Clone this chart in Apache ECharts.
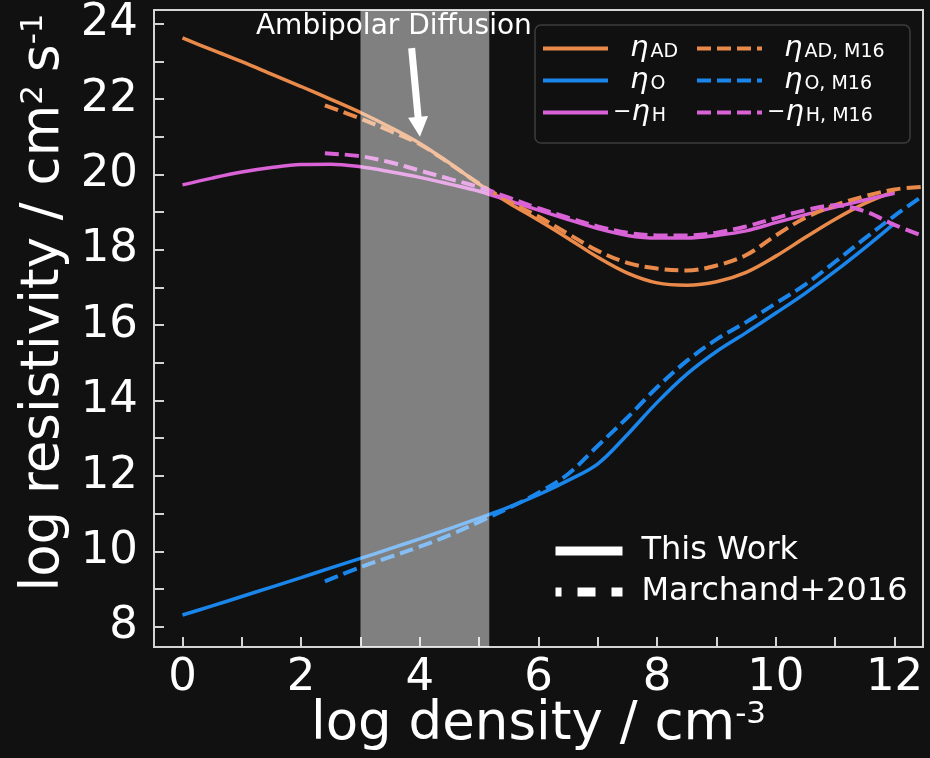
<!DOCTYPE html>
<html><head><meta charset="utf-8">
<script src="https://cdn.jsdelivr.net/npm/echarts@6/dist/echarts.min.js"></script>
<style>html,body{margin:0;padding:0;background:#111111;}#c{width:930px;height:758px;}</style>
</head><body><div id="c"></div>
<script>
// ---- data ----
const gridX = [0,0.5,1,1.5,2,2.5,3,3.5,4,4.5,5,5.5,6,6.5,7,7.5,8,8.5,9,9.5,10,10.5,11,11.5,12];
const m16X  = [2.4,3,3.5,4,4.5,5,5.5,6,6.5,7,7.5,8,8.5,9,9.5,10,10.5,11,11.5,12,12.47];

const etaAD    = [23.62,23.30,22.99,22.66,22.33,21.99,21.64,21.25,20.82,20.30,19.74,19.24,18.78,18.30,17.80,17.38,17.12,17.06,17.15,17.40,17.83,18.33,18.81,19.23,19.55];
const etaO     = [8.31,8.55,8.80,9.05,9.30,9.56,9.81,10.07,10.33,10.60,10.88,11.17,11.50,11.88,12.32,13.10,13.95,14.70,15.30,15.80,16.32,16.85,17.43,18.05,18.70];
const etaH     = [19.72,19.90,20.06,20.18,20.26,20.27,20.20,20.07,19.92,19.74,19.55,19.30,19.05,18.80,18.56,18.38,18.31,18.31,18.38,18.50,18.72,18.93,19.13,19.32,19.50];
const etaADm16 = [21.83,21.48,21.15,20.80,20.29,19.75,19.28,18.88,18.42,17.97,17.65,17.50,17.45,17.58,17.86,18.38,18.85,19.18,19.42,19.60,19.67];
const etaOm16  = [9.20,9.58,9.85,10.12,10.43,10.78,11.15,11.55,12.05,12.80,13.55,14.35,15.05,15.62,16.08,16.58,17.08,17.68,18.30,18.90,19.42];
const etaHm16  = [20.56,20.48,20.32,20.10,19.88,19.66,19.38,19.10,18.85,18.62,18.45,18.38,18.38,18.45,18.62,18.84,19.05,19.18,19.02,18.66,18.37];

const seriesNames = ['η_AD','η_O','−η_H','η_AD,M16','η_O,M16','−η_H,M16'];
const styleNames  = ['This Work','Marchand+2016'];
const bandRange   = [3, 5.17];
const annotText   = 'Ambipolar Diffusion';
const annotTextAt = [3.563, 23.907];
const arrowFrom   = [3.862, 23.35];
const arrowTo     = [3.986, 21.26];
const xTicks      = [0,1,2,3,4,5,6,7,8,9,10,11,12];
const xLabels     = [0,2,4,6,8,10,12];
const yTicks      = [8,9,10,11,12,13,14,15,16,17,18,19,20,21,22,23,24];
const yLabels     = [8,10,12,14,16,18,20,22,24];
const xTitle      = ['log density / cm','-3'];
const yTitle      = ['log resistivity / cm','2','s','-1'];

// ---- style ----
const FONT = 'DejaVu Sans';
const C = {ad:'#E98A4B', o:'#1A86EC', h:'#D862D6', fg:'#ffffff', frame:'#d4d4d4', bg:'#111111'};
const DASH = [14, 6];

function pairs(xs, ys){ return xs.map((x,i)=>[x, ys[i]]); }
function lineSeries(name, xs, ys, color, dashed){
  return {name, type:'line', data: pairs(xs, ys), smooth:0.35, symbol:'none', showSymbol:false,
    lineStyle:{color, width: dashed?4:3.5, type: dashed?DASH:'solid'}, itemStyle:{color}, z:2,
    emphasis:{disabled:true}};
}
function legendFmt(name){
  const neg = name.startsWith('−');
  const sub = name.split('_')[1].replace(',', ', ');
  return (neg ? '{m|−}' : '{sp| }') + '{eta|η}{sub|' + sub + '}';
}
const legendRich = {
  sp:{width:17, fontSize:22, lineHeight:26, fontFamily:FONT, color:C.fg},
  m:{fontSize:22, lineHeight:26, fontFamily:FONT, color:C.fg},
  eta:{fontSize:29, fontStyle:'italic', lineHeight:26, fontFamily:FONT, color:C.fg},
  sub:{fontSize:19, lineHeight:4, verticalAlign:'bottom', fontFamily:FONT, color:C.fg, padding:[0,0,0,2]}
};
const titleRich = {
  t:{fontSize:53, lineHeight:53, fontFamily:FONT, color:C.fg},
  s:{fontSize:31, lineHeight:18, verticalAlign:'top', fontFamily:FONT, color:C.fg},
  sp:{width:13, fontSize:53, lineHeight:53, fontFamily:FONT, color:C.fg}
};

const chart = echarts.init(document.getElementById('c'), null, {renderer:'canvas'});
const legendBase = {orient:'vertical', padding:0, itemWidth:65, itemHeight:10, itemGap:3,
  selectedMode:false, lineStyle:{width:4}, itemStyle:{opacity:0}, formatter:legendFmt,
  textStyle:{color:C.fg, fontFamily:FONT, rich:legendRich}, z:5};
const option = {
  backgroundColor: C.bg,
  animation:false,
  textStyle:{fontFamily:FONT},
  grid:{left:154, right:7, top:10, bottom:111, show:true, borderColor:C.frame, borderWidth:2, backgroundColor:'transparent'},
  xAxis:{type:'value', min:-0.48, max:12.48,
    axisLine:{show:true, onZero:false, lineStyle:{color:C.frame, width:2}},
    axisTick:{show:true, inside:true, length:10, customValues:xTicks, lineStyle:{color:C.frame, width:2}},
    axisLabel:{customValues:xLabels, color:C.fg, fontSize:45, margin:9, fontFamily:FONT},
    splitLine:{show:false},
    name:'{t|'+xTitle[0]+'}{s|'+xTitle[1]+'}', nameLocation:'middle', nameGap:52, nameMoveOverlap:false,
    nameTextStyle:{color:C.fg, fontSize:53, fontFamily:FONT, rich:titleRich}},
  yAxis:{type:'value', min:7.46, max:24.36,
    axisLine:{show:true, onZero:false, lineStyle:{color:C.frame, width:2}},
    axisTick:{show:true, inside:true, length:10, customValues:yTicks, lineStyle:{color:C.frame, width:2}},
    axisLabel:{customValues:yLabels, color:C.fg, fontSize:45, margin:16, fontFamily:FONT},
    splitLine:{show:false},
    name:'{t|'+yTitle[0]+'}{s|'+yTitle[1]+'}{sp| }{t|'+yTitle[2]+'}{s|'+yTitle[3]+'}', nameLocation:'middle', nameGap:83, nameMoveOverlap:false,
    nameTextStyle:{color:C.fg, fontSize:53, fontFamily:FONT, padding:[0,0,0,52], rich:titleRich}},
  legend:[
    Object.assign({}, legendBase, {data:seriesNames.slice(0,3), left:541, top:34}),
    Object.assign({}, legendBase, {data:seriesNames.slice(3), left:695, top:34}),
    {data:styleNames, orient:'vertical', padding:0, left:551, top:535, itemWidth:67, itemHeight:10, itemGap:9,
     selectedMode:false, lineStyle:{width:9}, itemStyle:{opacity:0},
     textStyle:{color:C.fg, fontFamily:FONT, fontSize:32, lineHeight:32, padding:[0,0,0,14]}, z:5}
  ],
  graphic:[{type:'rect', z:3, shape:{x:535, y:25, width:375, height:118, r:6},
    style:{fill:'rgba(17,17,17,0.85)', stroke:'#3c3c3c', lineWidth:1.5}}],
  series:[
    lineSeries(seriesNames[0], gridX, etaAD, C.ad, false),
    lineSeries(seriesNames[1], gridX, etaO, C.o, false),
    lineSeries(seriesNames[2], gridX, etaH, C.h, false),
    lineSeries(seriesNames[3], m16X, etaADm16, C.ad, true),
    lineSeries(seriesNames[4], m16X, etaOm16, C.o, true),
    lineSeries(seriesNames[5], m16X, etaHm16, C.h, true),
    {name:styleNames[0], type:'line', data:[], symbol:'none', lineStyle:{color:'#fff', width:9, type:'solid'}, itemStyle:{color:'#fff'}},
    {name:styleNames[1], type:'line', data:[], symbol:'none', lineStyle:{color:'#fff', width:9, type:[18,16], dashOffset:12}, itemStyle:{color:'#fff'}},
    {name:'band', type:'line', data:[], z:10, symbol:'none',
     markArea:{silent:true, z:10, itemStyle:{color:'rgba(255,255,255,0.466)', borderWidth:0},
       data:[[{xAxis:bandRange[0]},{xAxis:bandRange[1]}]]},
     markLine:{silent:true, z:11, symbol:['none','triangle'], symbolSize:20, label:{show:false},
       lineStyle:{color:'#ffffff', width:7, type:'solid', opacity:1},
       emphasis:{disabled:true},
       data:[[{coord:arrowFrom},{coord:arrowTo}]]},
     markPoint:{silent:true, z:12, symbol:'circle', symbolSize:0,
       label:{show:true, position:'inside', formatter:annotText, color:'#ffffff', fontSize:28, fontFamily:FONT},
       data:[{coord:annotTextAt}]}
    }
  ]
};
chart.setOption(option);
</script></body></html>
